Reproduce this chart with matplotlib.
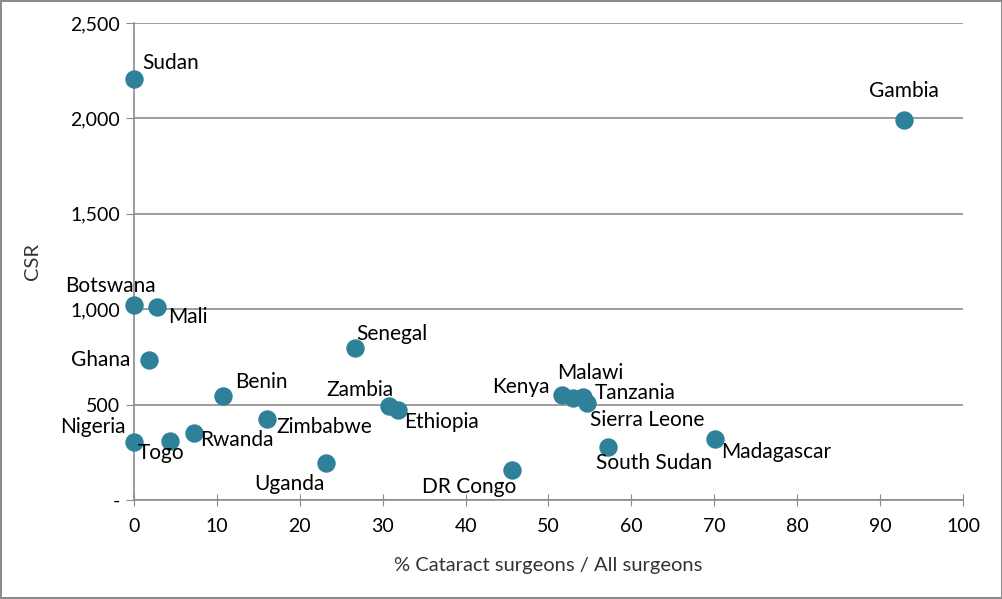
import matplotlib
matplotlib.use('Agg')
import matplotlib.pyplot as plt
from matplotlib.ticker import FuncFormatter

plt.rcParams['font.family'] = ['Lato', 'DejaVu Sans']

# data
countries = ['Sudan', 'Gambia', 'Botswana', 'Mali', 'Ghana', 'Senegal', 'Benin',
             'Zambia', 'Ethiopia', 'Kenya', 'Malawi', 'Tanzania', 'Sierra Leone',
             'South Sudan', 'Madagascar', 'Nigeria', 'Togo', 'Rwanda', 'Zimbabwe',
             'Uganda', 'DR Congo']
pct_cataract = [0, 92.9, 0, 2.8, 1.8, 26.7, 10.7,
                30.8, 31.8, 51.6, 53.0, 54.2, 54.6,
                57.2, 70.1, 0, 4.3, 7.2, 16.0,
                23.2, 45.6]
csr = [2206, 1992, 1022, 1011, 734, 797, 545,
       493, 472, 549, 535, 540, 508,
       278, 320, 304, 309, 351, 424,
       194, 157]

# label offsets in pixels and alignment
offsets = {
    'Sudan': (8, 16, 'left'), 'Gambia': (0, 29, 'center'),
    'Botswana': (-24, 19, 'center'), 'Mali': (11, -10, 'left'),
    'Ghana': (-19, 0, 'right'), 'Senegal': (1, 14, 'left'),
    'Benin': (12, 14, 'left'), 'Zambia': (4, 16, 'right'),
    'Ethiopia': (7, -12, 'left'), 'Kenya': (-12, 8, 'right'),
    'Malawi': (17, 25, 'center'), 'Tanzania': (11, 4, 'left'),
    'Sierra Leone': (3, -17, 'left'), 'South Sudan': (46, -16, 'center'),
    'Madagascar': (6, -13, 'left'), 'Nigeria': (-8, 15, 'right'),
    'Togo': (-9, -12, 'center'), 'Rwanda': (6, -7, 'left'),
    'Zimbabwe': (10, -8, 'left'), 'Uganda': (-37, -21, 'center'),
    'DR Congo': (-43, -17, 'center'),
}

fig = plt.figure(figsize=(10.03, 5.99), dpi=100, linewidth=1.5, edgecolor='#8c8c8c')
ax = fig.add_axes([134/1003, 1 - 500/599, (963-134)/1003, (500-23)/599])

ax.scatter(pct_cataract, csr, s=150, color='#2e8198', zorder=3, clip_on=False)
for name, x, y in zip(countries, pct_cataract, csr):
    dx, dy, ha = offsets[name]
    ax.annotate(name, (x, y), xytext=(dx, dy), textcoords='offset pixels',
                ha=ha, va='center', fontsize=15, color='black')

ax.set_xlim(0, 100)
ax.set_ylim(0, 2500)
ax.set_xticks(range(0, 101, 10))
ax.set_yticks(range(0, 2501, 500))
ax.yaxis.set_major_formatter(FuncFormatter(lambda v, p: '-' if v == 0 else f'{v:,.0f}'))
ax.grid(axis='y', color='#8c8c8c', linewidth=1.2)
ax.set_axisbelow(True)
for s in ['top', 'right']:
    ax.spines[s].set_visible(False)
for s in ['left', 'bottom']:
    ax.spines[s].set_color('#8c8c8c')
    ax.spines[s].set_linewidth(1.2)
ax.tick_params(axis='x', direction='inout', length=8, color='#8c8c8c', labelsize=14, pad=9)
ax.tick_params(axis='y', direction='out', length=6, color='#8c8c8c', labelsize=14, pad=4)
ax.set_xlabel('% Cataract surgeons / All surgeons', fontsize=14.5, color='#333333', labelpad=16)
ax.set_ylabel('CSR', fontsize=14.5, color='#333333', labelpad=21)

fig.savefig('out.png', dpi=100)
